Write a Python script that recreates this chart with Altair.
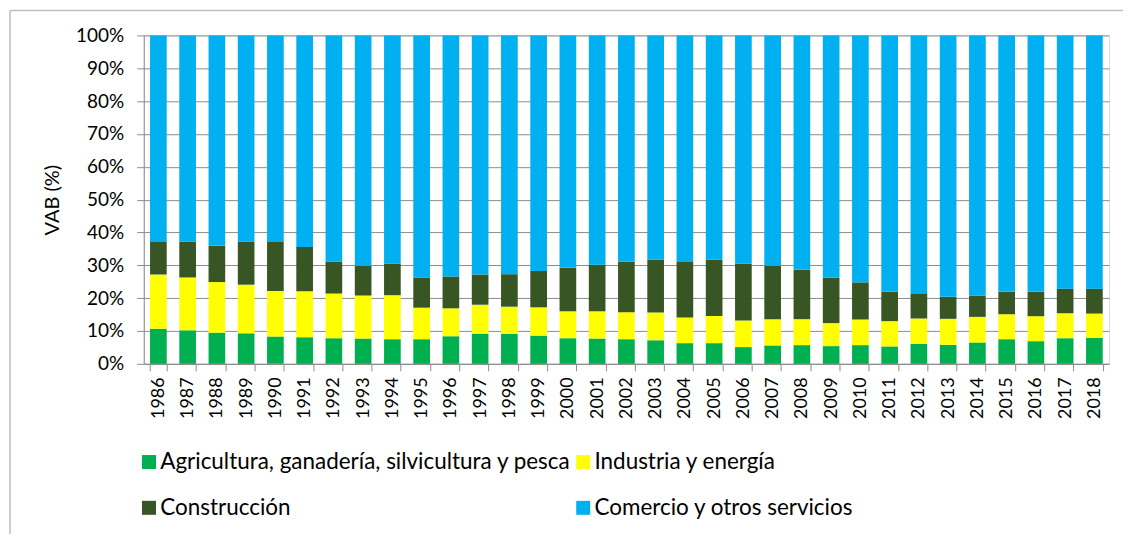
import altair as alt
import pandas as pd

years = [str(y) for y in range(1986, 2019)]
series = [
    "Agricultura, ganadería, silvicultura y pesca",
    "Industria y energía",
    "Construcción",
    "Comercio y otros servicios",
]
colors = ["#00B050", "#FFFF00", "#375623", "#00B0F0"]

agricultura = [10.7, 10.2, 9.5, 9.3, 8.3, 8.1, 7.8, 7.7, 7.5, 7.5, 8.4, 9.2, 9.1, 8.6, 7.8, 7.7, 7.5,
               7.2, 6.3, 6.3, 5.1, 5.6, 5.7, 5.4, 5.7, 5.3, 6.1, 5.8, 6.5, 7.5, 6.9, 7.8, 7.9]
industria = [16.5, 16.1, 15.4, 14.8, 13.9, 14.0, 13.6, 13.1, 13.4, 9.6, 8.5, 8.8, 8.3, 8.6, 8.2, 8.3, 8.2,
             8.4, 7.8, 8.3, 8.1, 8.0, 7.9, 7.0, 7.8, 7.7, 7.7, 7.9, 7.8, 7.6, 7.6, 7.6, 7.4]
construccion = [9.9, 10.9, 11.1, 13.1, 14.9, 13.5, 9.7, 9.1, 9.6, 9.2, 9.7, 9.2, 9.9, 11.1, 13.3, 14.2, 15.4,
                16.1, 16.9, 17.1, 17.3, 16.3, 15.1, 13.8, 11.3, 9.0, 7.5, 6.7, 6.5, 6.9, 7.5, 7.5, 7.6]
comercio = [62.9, 62.8, 64.0, 62.8, 62.9, 64.4, 68.9, 70.1, 69.5, 73.7, 73.4, 72.8, 72.7, 71.7, 70.7, 69.8, 68.9,
            68.3, 69.0, 68.3, 69.5, 70.1, 71.3, 73.8, 75.2, 78.0, 78.7, 79.6, 79.2, 78.0, 78.0, 77.1, 77.1]

rows = []
for i, y in enumerate(years):
    for k, vals in enumerate([agricultura, industria, construccion, comercio]):
        rows.append({"year": y, "serie": series[k], "ord": k, "value": vals[i]})
df = pd.DataFrame(rows)

FONT = "Lato"
GRAY = "#8C8C8C"

bars = alt.Chart(df).mark_bar(strokeWidth=0).encode(
    x=alt.X(
        "year:N",
        sort=years,
        title=None,
        scale=alt.Scale(paddingInner=0.43, paddingOuter=0.215),
        axis=alt.Axis(
            labelAngle=-90, tickBand="extent", grid=False, domainColor=GRAY, tickColor=GRAY,
            tickSize=7, labelPadding=6, labelFontSize=18, labelColor="#000000", labelFont=FONT,
        ),
    ),
    y=alt.Y(
        "value:Q",
        stack="zero",
        title="VAB (%)",
        scale=alt.Scale(domain=[0, 100], nice=False),
        axis=alt.Axis(
            values=list(range(0, 101, 10)), labelExpr="datum.value + '%'", grid=True,
            gridColor=GRAY, domainColor=GRAY, tickColor=GRAY, tickSize=7, labelPadding=13,
            labelFontSize=19, labelColor="#000000", labelFont=FONT,
            titleFontSize=20, titleFontWeight="normal", titleColor="#000000", titleFont=FONT,
            titlePadding=13,
        ),
    ),
    color=alt.Color(
        "serie:N",
        scale=alt.Scale(domain=series, range=colors),
        legend=alt.Legend(
            orient="none", legendX=-6, legendY=416, columns=2, direction="horizontal",
            symbolType="square", symbolSize=196, symbolStrokeWidth=0, labelOffset=0,
            labelFontSize=22.5, labelFont=FONT, labelColor="#000000", labelLimit=0,
            title=None, columnPadding=0, rowPadding=23, padding=0,
        ),
    ),
    order=alt.Order("ord:Q", sort="ascending"),
)

frame_left = alt.Chart(alt.Data(values=[{"a": 1}])).mark_rule(
    color="#BFBFBF", strokeWidth=1.5
).encode(x=alt.value(-134), y=alt.value(-25), y2=alt.value(560))

frame_top = alt.Chart(alt.Data(values=[{"a": 1}])).mark_rule(
    color="#BFBFBF", strokeWidth=1.5
).encode(x=alt.value(-134), x2=alt.value(1000), y=alt.value(-25))

chart = alt.layer(frame_left, frame_top, bars).properties(
    width=967,
    height=329,
    autosize=alt.AutoSizeParams(type="none"),
    padding={"left": 136, "top": 27, "right": 14, "bottom": 170},
).configure_view(stroke=None).configure(background="white")

chart.save("out.html", embed_options={"renderer": "svg", "actions": False})
